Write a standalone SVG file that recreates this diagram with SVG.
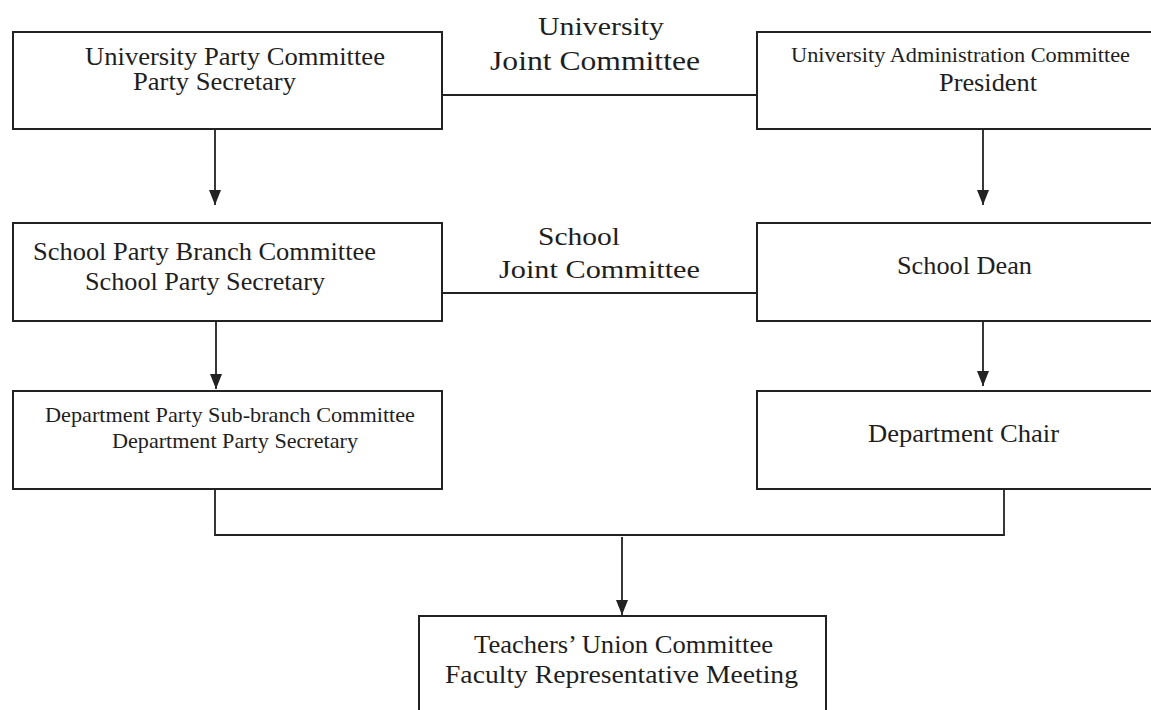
<svg xmlns="http://www.w3.org/2000/svg" width="1151" height="710" viewBox="0 0 1151 710">
<style>
.box{fill:#fff;stroke:#222;stroke-width:2}
.ln{fill:none;stroke:#222;stroke-width:1.8}
text{font-family:"Liberation Serif","Times New Roman",serif;fill:#1e1e1e}
</style>
<defs>
<marker id="ah" markerUnits="userSpaceOnUse" markerWidth="15" markerHeight="12" viewBox="0 0 15 12" refX="15" refY="6" orient="auto">
<path d="M0,0 L15,6 L0,12 z" fill="#222"/>
</marker>
</defs>
<rect width="1151" height="710" fill="#fff"/>
<g id="connectors">
<line class="ln" x1="442" y1="95" x2="757" y2="95"/>
<line class="ln" x1="442" y1="293" x2="757" y2="293"/>
<line class="ln" x1="215" y1="130" x2="215" y2="205" marker-end="url(#ah)"/>
<line class="ln" x1="983" y1="130" x2="983" y2="205" marker-end="url(#ah)"/>
<line class="ln" x1="216" y1="322" x2="216" y2="389" marker-end="url(#ah)"/>
<line class="ln" x1="983" y1="322" x2="983" y2="386" marker-end="url(#ah)"/>
<polyline class="ln" points="215,490 215,535 1004,535 1004,490"/>
<line class="ln" x1="622" y1="537" x2="622" y2="615" marker-end="url(#ah)"/>
<text x="538" y="35" font-size="26" textLength="126" lengthAdjust="spacingAndGlyphs">University</text>
<text x="490" y="70" font-size="27" textLength="210" lengthAdjust="spacingAndGlyphs">Joint Committee</text>
<text x="538" y="245" font-size="26" textLength="82" lengthAdjust="spacingAndGlyphs">School</text>
<text x="499" y="278" font-size="26" textLength="201" lengthAdjust="spacingAndGlyphs">Joint Committee</text>
</g>
<g id="univ-party">
<rect class="box" x="13" y="32" width="429" height="97"/>
<text x="85" y="65" font-size="25" textLength="300" lengthAdjust="spacingAndGlyphs">University Party Committee</text>
<text x="133" y="90" font-size="25" textLength="163" lengthAdjust="spacingAndGlyphs">Party Secretary</text>
</g>
<g id="univ-admin">
<rect class="box" x="757" y="32" width="410" height="97"/>
<text x="791" y="62" font-size="22" textLength="339" lengthAdjust="spacingAndGlyphs">University Administration Committee</text>
<text x="939" y="91" font-size="25" textLength="98" lengthAdjust="spacingAndGlyphs">President</text>
</g>
<g id="school-party">
<rect class="box" x="13" y="223" width="429" height="98"/>
<text x="33" y="260" font-size="25" textLength="343" lengthAdjust="spacingAndGlyphs">School Party Branch Committee</text>
<text x="85" y="290" font-size="25" textLength="240" lengthAdjust="spacingAndGlyphs">School Party Secretary</text>
</g>
<g id="school-dean">
<rect class="box" x="757" y="223" width="410" height="98"/>
<text x="897" y="274" font-size="25" textLength="135" lengthAdjust="spacingAndGlyphs">School Dean</text>
</g>
<g id="dept-party">
<rect class="box" x="13" y="391" width="429" height="98"/>
<text x="45" y="422" font-size="22" textLength="370" lengthAdjust="spacingAndGlyphs">Department Party Sub-branch Committee</text>
<text x="112" y="448" font-size="22" textLength="246" lengthAdjust="spacingAndGlyphs">Department Party Secretary</text>
</g>
<g id="dept-chair">
<rect class="box" x="757" y="391" width="410" height="98"/>
<text x="868" y="442" font-size="25" textLength="191" lengthAdjust="spacingAndGlyphs">Department Chair</text>
</g>
<g id="teachers-union">
<rect class="box" x="419" y="616" width="407" height="110"/>
<text x="474" y="653" font-size="25" textLength="299" lengthAdjust="spacingAndGlyphs">Teachers’ Union Committee</text>
<text x="445" y="683" font-size="26" textLength="353" lengthAdjust="spacingAndGlyphs">Faculty Representative Meeting</text>
</g>
</svg>
